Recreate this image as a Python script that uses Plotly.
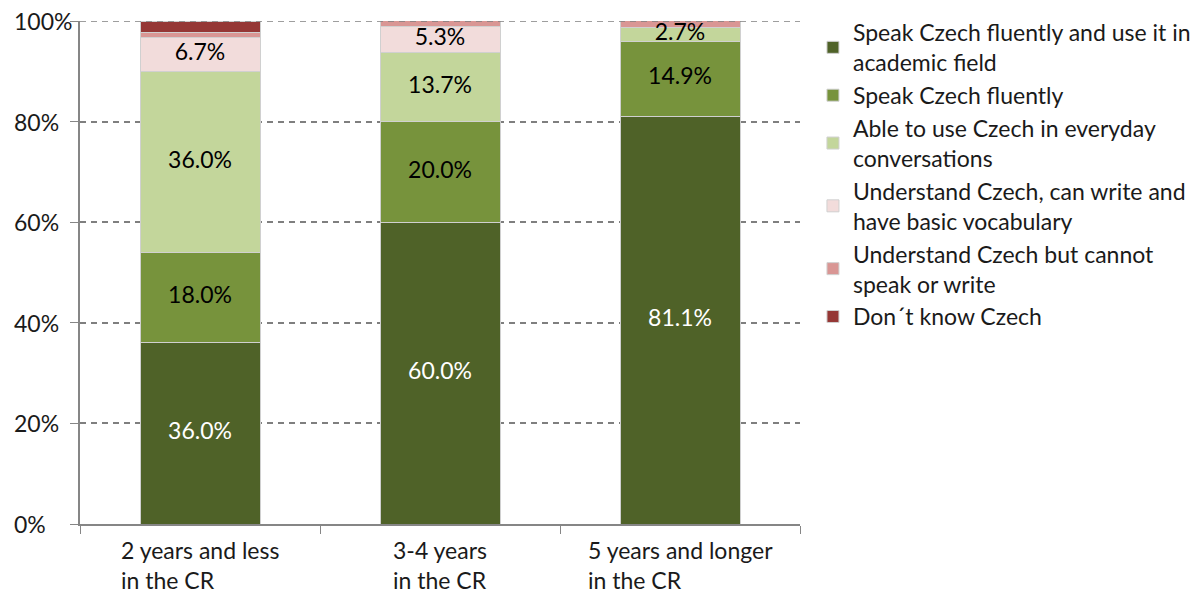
import plotly.graph_objects as go

categories = ["2 years and less<br>in the CR", "3-4 years<br>in the CR", "5 years and longer<br>in the CR"]
series_names = [
    "Speak Czech fluently and use it in<br>academic field",
    "Speak Czech fluently",
    "Able to use Czech in everyday<br>conversations",
    "Understand Czech, can write and<br>have basic vocabulary",
    "Understand Czech but cannot<br>speak or write",
    "Don´t know Czech",
]
fluent_academic = [36.0, 60.0, 81.1]
fluent = [18.0, 20.0, 14.9]
everyday = [36.0, 13.7, 2.7]
basic_vocab = [6.7, 5.3, 0.0]
understand_only = [1.1, 1.1, 1.4]
dont_know = [2.2, 0.0, 0.0]
y_ticks = [0, 20, 40, 60, 80, 100]
y_tick_labels = ["0%", "20%", "40%", "60%", "80%", "100%"]

series_values = [fluent_academic, fluent, everyday, basic_vocab, understand_only, dont_know]
colors = ["#4F6228", "#77933C", "#C3D69B", "#F2DCDB", "#D99694", "#953735"]
text_colors = ["white", "black", "black", "black", "black", "black"]

FONT = "Lato"
FS = 23
TXT = "#1a1a1a"
fig = go.Figure()
for i, (name, vals) in enumerate(zip(series_names, series_values)):
    fig.add_trace(go.Bar(
        x=categories, y=vals, name=name, legendgroup=f"g{i}",
        marker=dict(color=colors[i], line=dict(color="#D0D0D0", width=1)),
        hoverinfo="skip",
    ))

# value labels on top of all bars, centred in each segment
base = [0.0] * len(categories)
for i, vals in enumerate(series_values):
    mids = [b + v / 2 for b, v in zip(base, vals)]
    labels = [f"{v:.1f}%" if v >= 2.5 else "" for v in vals]
    fig.add_trace(go.Scatter(
        x=categories, y=mids, mode="text", text=labels, showlegend=False,
        textfont=dict(color=text_colors[i], size=FS, family=FONT),
        hoverinfo="skip", cliponaxis=False,
    ))
    base = [b + v for b, v in zip(base, vals)]

for c in categories:
    fig.add_annotation(x=c, y=0, xref="x", yref="paper", yanchor="top",
                       yshift=-10, text=c, showarrow=False, align="left",
                       font=dict(size=FS, family=FONT, color=TXT))

for v, t in zip(y_ticks, y_tick_labels):
    fig.add_annotation(x=-68 / 720, y=v, xref="paper", yref="y", xanchor="left",
                       yanchor="middle", text=t, showarrow=False, align="left",
                       font=dict(size=FS, family=FONT, color=TXT))

fig.add_hline(y=100, line=dict(color="#7f7f7f", width=1.5, dash="6px,5px"))

# page body has an 8px margin, so the figure is sized to fit the window
fig.update_layout(
    width=1196, height=587,
    margin=dict(l=72, r=404, t=13, b=71, autoexpand=False),
    barmode="stack", bargap=0.5,
    plot_bgcolor="white", paper_bgcolor="white",
    font=dict(family=FONT, size=FS, color=TXT),
    legend=dict(x=1.018, y=1.02, xanchor="left", yanchor="top",
                traceorder="normal", tracegroupgap=0, maxheight=600,
                font=dict(size=FS, family=FONT, color=TXT)),
    showlegend=True,
)
fig.update_xaxes(showticklabels=False, ticks="outside", tickson="boundaries",
                 ticklen=8, tickcolor="#868686", showline=True, linecolor="#868686",
                 linewidth=1.5, showgrid=False, automargin=False)
fig.update_yaxes(range=[0, 100], tickmode="array", tickvals=y_ticks, showticklabels=False,
                 ticks="outside", ticklen=8, tickcolor="#868686", showline=True,
                 linecolor="#868686", linewidth=1.5, showgrid=True, gridcolor="#7f7f7f",
                 gridwidth=1.5, griddash="6px,5px", zeroline=False, automargin=False)

fig.write_html("out.html")
